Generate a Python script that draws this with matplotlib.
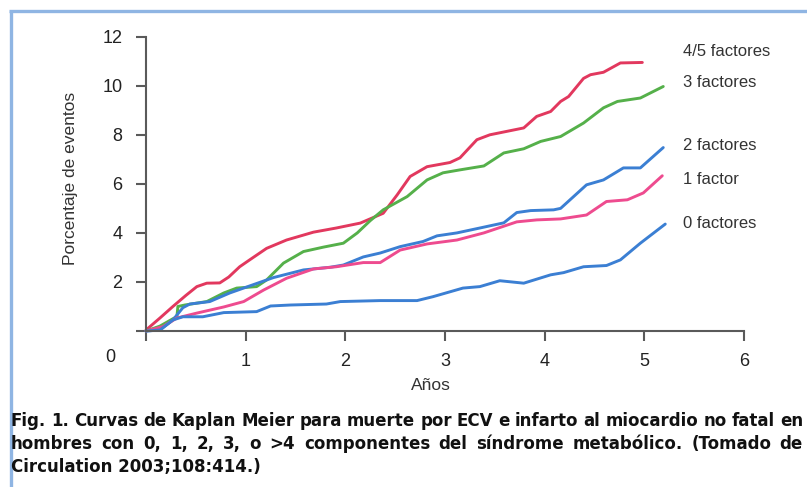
import matplotlib
matplotlib.use("Agg")
import matplotlib.pyplot as plt
from matplotlib.lines import Line2D

# ---------------- data ----------------
x_45 = [0, 0.14, 0.27, 0.4, 0.51, 0.61, 0.74, 0.83, 0.94, 1.04, 1.21, 1.41, 1.68, 1.91, 2.15, 2.38,
        2.52, 2.65, 2.82, 3.05, 3.15, 3.32, 3.45, 3.79, 3.92, 4.06, 4.16, 4.24, 4.39, 4.46, 4.59, 4.76, 4.98]
y_45 = [0.04, 0.53, 1.0, 1.45, 1.81, 1.95, 1.96, 2.2, 2.62, 2.9, 3.37, 3.71, 4.03, 4.2, 4.4, 4.8,
        5.55, 6.3, 6.7, 6.87, 7.06, 7.8, 8.0, 8.28, 8.75, 8.95, 9.36, 9.56, 10.3, 10.45, 10.55, 10.93, 10.95]

x_3 = [0, 0.14, 0.27, 0.31, 0.32, 0.39, 0.61, 0.78, 0.91, 1.11, 1.21, 1.38, 1.58, 1.78, 1.98, 2.12,
       2.25, 2.38, 2.62, 2.82, 2.98, 3.15, 3.39, 3.59, 3.79, 3.96, 4.16, 4.39, 4.59, 4.73, 4.96, 5.19]
y_3 = [0, 0.2, 0.5, 0.58, 1.0, 1.06, 1.2, 1.55, 1.75, 1.81, 2.08, 2.77, 3.24, 3.42, 3.58, 4.0,
       4.5, 4.94, 5.48, 6.16, 6.45, 6.57, 6.73, 7.26, 7.43, 7.73, 7.93, 8.48, 9.1, 9.36, 9.5, 9.97]

x_2 = [0, 0.14, 0.27, 0.37, 0.44, 0.64, 0.84, 1.07, 1.28, 1.58, 1.85, 1.98, 2.18, 2.35, 2.55, 2.78,
       2.92, 3.12, 3.35, 3.59, 3.72, 3.86, 4.09, 4.16, 4.42, 4.59, 4.79, 4.96, 5.19]
y_2 = [0, 0.04, 0.45, 0.95, 1.1, 1.2, 1.55, 1.88, 2.18, 2.49, 2.6, 2.69, 3.02, 3.18, 3.44, 3.65,
       3.88, 4.0, 4.2, 4.41, 4.83, 4.91, 4.94, 5.0, 5.96, 6.16, 6.65, 6.65, 7.48]

x_1 = [0, 0.17, 0.31, 0.51, 0.78, 0.98, 1.18, 1.41, 1.68, 1.91, 2.18, 2.35, 2.55, 2.82, 3.12, 3.39,
       3.72, 3.92, 4.16, 4.42, 4.62, 4.83, 4.99, 5.18]
y_1 = [0, 0.18, 0.53, 0.73, 0.98, 1.2, 1.67, 2.15, 2.53, 2.62, 2.79, 2.79, 3.3, 3.55, 3.71, 4.0,
       4.45, 4.53, 4.57, 4.73, 5.28, 5.35, 5.63, 6.33]

x_0 = [0, 0.14, 0.27, 0.37, 0.57, 0.78, 1.11, 1.25, 1.45, 1.81, 1.95, 2.35, 2.72, 2.88, 3.18, 3.35,
       3.55, 3.79, 4.06, 4.19, 4.39, 4.62, 4.76, 4.96, 5.21]
y_0 = [0, 0.04, 0.45, 0.58, 0.58, 0.75, 0.79, 1.02, 1.06, 1.1, 1.2, 1.24, 1.24, 1.4, 1.75, 1.81,
       2.05, 1.95, 2.29, 2.38, 2.62, 2.67, 2.9, 3.58, 4.36]

series_labels = ["4/5 factores", "3 factores", "2 factores", "1 factor", "0 factores"]
label_y = [11.4, 10.12, 7.55, 6.16, 4.37]

x_ticks = [0, 1, 2, 3, 4, 5, 6]
y_ticks = [0, 2, 4, 6, 8, 10, 12]

caption_lines = [
    "Fig. 1. Curvas de Kaplan Meier para muerte por ECV e infarto al miocardio no fatal en",
    "hombres con 0, 1, 2, 3, o >4 componentes del síndrome metabólico. (Tomado de",
    "Circulation 2003;108:414.)",
]

# ---------------- style ----------------
plt.rcParams['font.family'] = ['Liberation Sans', 'DejaVu Sans']
W, H = 807, 487
fig = plt.figure(figsize=(W / 100, H / 100), dpi=100)
fig.patch.set_facecolor('white')

# frame border (light blue)
border = '#8fb5e3'
fig.add_artist(Line2D([10.5 / W, 10.5 / W], [0, 1 - 11 / H], transform=fig.transFigure,
                      color=border, lw=2.4, solid_capstyle='butt'))
fig.add_artist(Line2D([9 / W, 1], [1 - 11 / H, 1 - 11 / H], transform=fig.transFigure,
                      color=border, lw=2.4, solid_capstyle='butt'))

x0px, x6px = 146, 744
y0px, y12px = 331, 36.7
ax = fig.add_axes([x0px / W, 1 - y0px / H, (x6px - x0px) / W, (y0px - y12px) / H])
ax.set_xlim(0, 6)
ax.set_ylim(0, 12)
ax.patch.set_alpha(0)

c_red = '#e2385e'
c_green = '#55b04a'
c_blue = '#3b7fd3'
c_pink = '#ee4b8f'

lw = 2.1
kw = dict(lw=lw, solid_joinstyle='round', solid_capstyle='round', clip_on=False)
ax.plot(x_45, y_45, color=c_red, **kw)
ax.plot(x_3, y_3, color=c_green, **kw)
ax.plot(x_2, y_2, color=c_blue, **kw)
ax.plot(x_1, y_1, color=c_pink, **kw)
ax.plot(x_0, y_0, color=c_blue, **kw)

for lab, yy in zip(series_labels, label_y):
    ax.text(5.39, yy, lab, fontsize=12, color='#333333', ha='left', va='center')

for s in ['top', 'right']:
    ax.spines[s].set_visible(False)
for s in ['left', 'bottom']:
    ax.spines[s].set_color('#5a5a5a')
    ax.spines[s].set_linewidth(1.5)

ax.set_xticks(x_ticks)
ax.set_xticklabels([''] + [str(v) for v in x_ticks[1:]])
ax.set_yticks(y_ticks)
ax.set_yticklabels([''] + [str(v) for v in y_ticks[1:]])
ax.tick_params(axis='both', direction='out', length=7, width=1.5, color='#5a5a5a',
               labelsize=13, labelcolor='#222222')
ax.tick_params(axis='x', pad=9)
ax.tick_params(axis='y', pad=10)

# "0" label placed at lower-left as in the original
fig.text(110 / W, 1 - 358 / H, '0', fontsize=13, color='#222222', ha='center', va='center')

fig.text(71 / W, 1 - 178 / H, 'Porcentaje de eventos', rotation=90, fontsize=12.5,
         color='#333333', ha='center', va='center')
fig.text(431 / W, 1 - 386 / H, 'Años', fontsize=12.5, color='#333333', ha='center', va='center')

# caption, justified
renderer = fig.canvas.get_renderer()
cap_family = ['DejaVu Sans']
cap_fs = 12.0
left_px, right_px = 11, 803
baselines = [426, 449, 472]


def wwidth(word, fs):
    t = fig.text(0, 0, word, fontsize=fs, weight='bold', family=cap_family)
    w = t.get_window_extent(renderer).width
    t.remove()
    return w

words0 = caption_lines[0].split()
while True:
    tot = sum(wwidth(w, cap_fs) for w in words0) + 3.0 * (len(words0) - 1)
    if tot <= right_px - left_px or cap_fs < 7:
        break
    cap_fs -= 0.25

for i, line in enumerate(caption_lines):
    words = line.split()
    by = 1 - baselines[i] / H
    if i < 2:
        widths = [wwidth(w, cap_fs) for w in words]
        gap = (right_px - left_px - sum(widths)) / (len(words) - 1)
        xpos = left_px
        for w, wd in zip(words, widths):
            fig.text(xpos / W, by, w, fontsize=cap_fs, weight='bold', family=cap_family,
                     color='#111111', ha='left', va='baseline')
            xpos += wd + gap
    else:
        fig.text(left_px / W, by, line, fontsize=cap_fs, weight='bold', family=cap_family,
                 color='#111111', ha='left', va='baseline')

fig.savefig('out.png', dpi=100)
